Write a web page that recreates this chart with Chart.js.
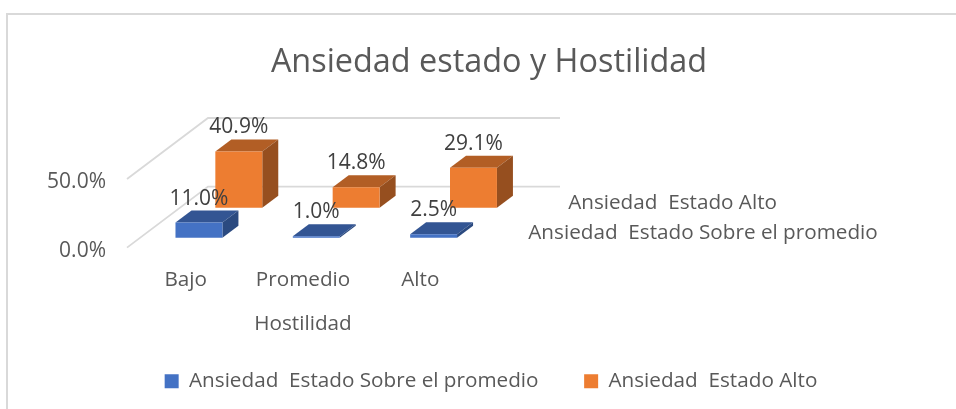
<!DOCTYPE html>
<html><head><meta charset="utf-8">
<style>html,body{margin:0;padding:0;background:#fff}#w{width:956px;height:409px;position:relative}</style>
<script src="https://cdn.jsdelivr.net/npm/chart.js@4"></script>
</head><body><div id="w"><canvas id="c" width="956" height="409"></canvas></div>
<script>
const chartTitle = "Ansiedad estado y Hostilidad";
const axisTitle = "Hostilidad";
const categories = ["Bajo", "Promedio", "Alto"];
const seriesNames = ["Ansiedad  Estado Sobre el promedio", "Ansiedad  Estado Alto"];
const sobrePromedio = [11.0, 1.0, 2.5];
const estadoAlto = [40.9, 14.8, 29.1];
const yTicks = [0, 50];

const FONT = "'Open Sans'";
const TXT = 20.7;
const DEPTH = {x: 81, y: -61};
const ROW_T = [0.164, 0.656];
const BAR_D = {x: 16, y: -12};
const TOP = ["#335593", "#B25E25"];
const SIDE = ["#2B4A80", "#964F1F"];
const LEGEND_Y = 383;

function poly(ctx, pts, fill){
  ctx.beginPath();
  pts.forEach((p,i)=> i ? ctx.lineTo(p[0],p[1]) : ctx.moveTo(p[0],p[1]));
  ctx.closePath();
  ctx.fillStyle = fill; ctx.fill();
}
const threeD = {
  id: "threeD",
  afterLayout(chart){
    const lg = chart.legend, pad = lg.options.labels.padding;
    const h = lg.bottom - lg.top;
    lg.top = LEGEND_Y - pad - 12;
    lg.bottom = lg.top + h;
    lg.left += 2; lg.right += 2;
  },
  beforeDraw(chart){
    const {ctx, scales:{y}, chartArea:a} = chart;
    ctx.save();
    ctx.strokeStyle = "#D9D9D9"; ctx.lineWidth = 2;
    ctx.beginPath(); ctx.moveTo(7,409); ctx.lineTo(7,14); ctx.lineTo(956,14); ctx.stroke();
    ctx.lineWidth = 1.8;
    yTicks.forEach(v=>{
      const py = y.getPixelForValue(v);
      ctx.beginPath();
      ctx.moveTo(a.left, py);
      ctx.lineTo(a.left + DEPTH.x, py + DEPTH.y);
      ctx.lineTo(a.right + DEPTH.x, py + DEPTH.y);
      ctx.stroke();
    });
    ctx.restore();
  },
  beforeDatasetDraw(chart, args){
    const {ctx} = chart, i = args.index, t = ROW_T[i];
    const ox = DEPTH.x*t, oy = DEPTH.y*t;
    ctx.save();
    ctx.translate(ox, oy);
    chart.getDatasetMeta(i).data.forEach(b=>{
      const p = b.getProps(["x","y","base","width"], true);
      const l = p.x - p.width/2, r = p.x + p.width/2;
      poly(ctx, [[l,p.y],[r,p.y],[r+BAR_D.x,p.y+BAR_D.y],[l+BAR_D.x,p.y+BAR_D.y]], TOP[i]);
      poly(ctx, [[r,p.y],[r+BAR_D.x,p.y+BAR_D.y],[r+BAR_D.x,p.base+BAR_D.y],[r,p.base]], SIDE[i]);
    });
  },
  afterDatasetDraw(chart){ chart.ctx.restore(); },
  afterDatasetsDraw(chart){
    const {ctx, chartArea:a, scales:{y}} = chart;
    ctx.save();
    ctx.font = "21px " + FONT;
    ctx.textBaseline = "middle";
    ctx.textAlign = "center";
    ctx.fillStyle = "#404040";
    chart.data.datasets.forEach((ds,i)=>{
      const t = ROW_T[i];
      chart.getDatasetMeta(i).data.forEach((b,j)=>{
        const p = b.getProps(["x","y"], true);
        ctx.fillText(ds.data[j].toFixed(1)+"%", p.x + DEPTH.x*t, p.y + DEPTH.y*t - 24);
      });
    });
    ctx.textAlign = "left";
    ctx.fillStyle = "#595959";
    ctx.font = TXT + "px " + FONT;
    seriesNames.forEach((n,i)=>{
      const t = ROW_T[i];
      ctx.fillText(n, a.right + DEPTH.x*t + 36, y.getPixelForValue(0) + DEPTH.y*t - 4.5);
    });
    ctx.restore();
  }
};

new Chart(document.getElementById("c"), {
  type: "bar",
  data: {
    labels: categories,
    datasets: [
      {label: seriesNames[0], data: sobrePromedio, backgroundColor: "#4472C4", clip: false},
      {label: seriesNames[1], data: estadoAlto, backgroundColor: "#ED7D31", clip: false}
    ]
  },
  options: {
    responsive: false,
    animation: false,
    devicePixelRatio: 1,
    layout: {padding: {left: 22, right: 0, top: 0, bottom: -29}},
    datasets: {bar: {grouped: false, barPercentage: 0.4, categoryPercentage: 1}},
    plugins: {
      tooltip: {enabled: false},
      title: {display: true, text: chartTitle, color: "#595959",
        font: {family: FONT, size: 32.4, weight: "normal"}, padding: {top: 43.2, bottom: 96.9}},
      legend: {display: true, position: "bottom",
        labels: {boxWidth: 14, boxHeight: 14, padding: 45.65, color: "#595959",
          font: {family: FONT, size: TXT}}}
    },
    scales: {
      x: {
        grid: {display: false}, border: {display: false},
        ticks: {color: "#595959", font: {family: FONT, size: TXT}, padding: 12, maxRotation: 0},
        title: {display: true, text: axisTitle, color: "#595959", font: {family: FONT, size: TXT}, padding: {top: 18, bottom: 25}},
        afterFit(s){ s.height = 114; }
      },
      y: {
        min: 0, max: 50,
        grid: {display: false}, border: {display: false},
        afterBuildTicks(s){ s.ticks = yTicks.map(v=>({value:v})); },
        ticks: {color: "#595959", font: {family: FONT, size: 21}, padding: 13, labelOffset: 3,
          callback: v => v.toFixed(1)+"%"},
        afterFit(s){ s.width = 105; }
      },
      y2: {
        position: "right", display: true,
        grid: {display: false}, border: {display: false}, ticks: {display: false},
        afterFit(s){ s.width = 477; }
      }
    }
  },
  plugins: [threeD]
});
</script></body></html>
